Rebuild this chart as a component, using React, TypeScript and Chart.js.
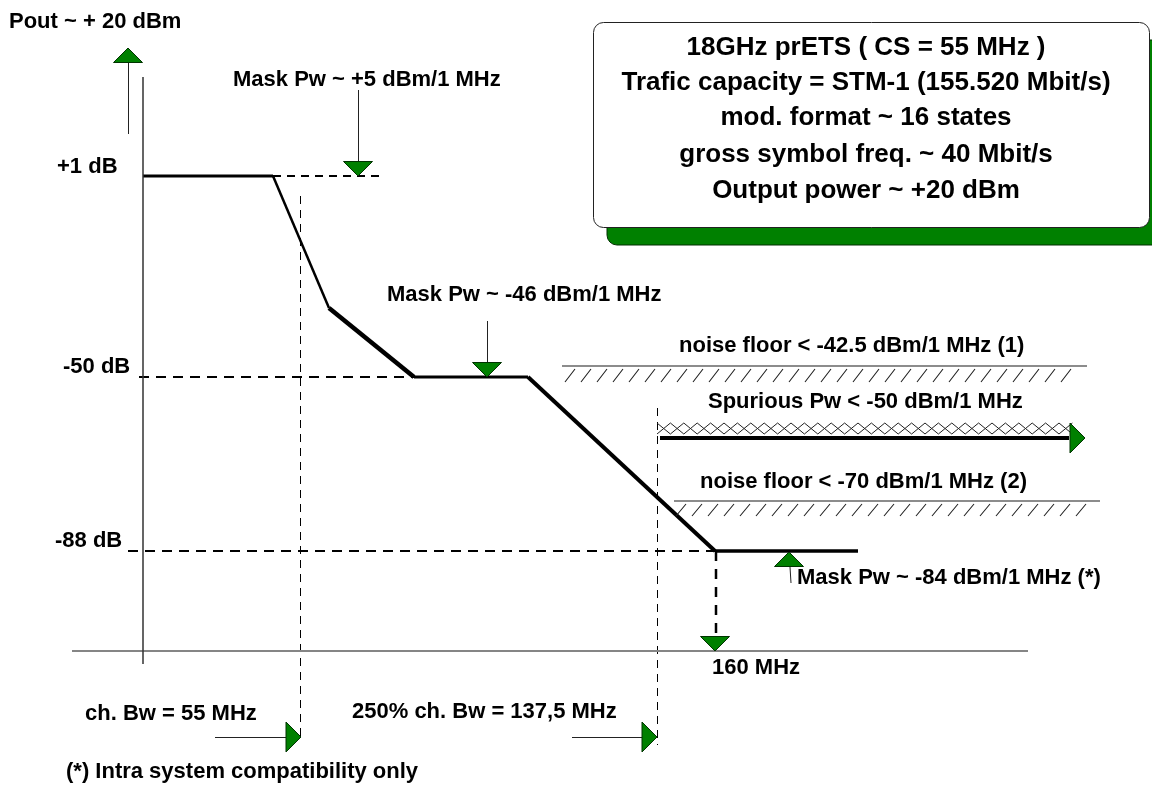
import React, { useEffect, useRef } from "react";
import { Chart, registerables } from "chart.js";

Chart.register(...registerables);

// Schematic diagram units (not to scale): x to the right, y downward.
// Spectrum mask breakpoints
const maskX = [143, 273, 329, 414, 528, 715, 858];
const maskY = [176, 176, 308, 377, 377, 551, 551];

// Level lines (+1 dB, -50 dB, -88 dB) and their labels
const levelNames = ["+1 dB", "-50 dB", "-88 dB"];
const levelY = [176, 377, 551];
const levelStartX = [273, 139, 128];
const levelEndX = [385, 414, 715];
const levelLabelX = [57, 63, 55];
const levelLabelY = [167, 367, 541];

// Frequency markers (vertical dashed lines)
const freqNames = ["ch. Bw = 55 MHz", "250% ch. Bw = 137,5 MHz", "160 MHz"];
const freqX = [300.5, 657.5, 716];
const freqTopY = [196, 408, 551];
const freqBottomY = [740, 745, 637];
const freqLabelX = [85, 352, 712];
const freqLabelY = [714, 712, 668];

// Axes of the sketch
const axisV = { x: 143, y1: 77, y2: 664 };
const axisH = { y: 651, x1: 72, x2: 1028 };

// Floors / limits
const floorNames = [
  "noise floor < -42.5 dBm/1 MHz (1)",
  "Spurious Pw < -50 dBm/1 MHz",
  "noise floor < -70 dBm/1 MHz (2)",
];
const floorY = [366, 438, 501];
const floorX1 = [562, 660, 674];
const floorX2 = [1087, 1069, 1100];
const floorLabelX = [679, 708, 700];
const floorLabelY = [346, 402, 482];

// Mask power annotations
const maskNotes = [
  "Mask Pw ~ +5 dBm/1 MHz",
  "Mask Pw ~ -46 dBm/1 MHz",
  "Mask Pw ~ -84 dBm/1 MHz (*)",
];
const maskNoteX = [233, 387, 797];
const maskNoteY = [80, 295, 578];

// Info box
const infoLines = [
  "18GHz prETS ( CS = 55 MHz )",
  "Trafic capacity = STM-1 (155.520 Mbit/s)",
  "mod. format ~ 16 states",
  "gross symbol freq. ~ 40 Mbit/s",
  "Output power ~ +20 dBm",
];
const infoLineY = [48, 83, 118, 155, 191];
const infoBox = { x1: 593, y1: 22, x2: 1149, y2: 227 };

const yAxisTitle = "Pout ~ + 20 dBm";
const footnote = "(*) Intra system compatibility only";

// Arrow shafts (thin lines)
const shafts = [
  { x1: 128.5, y1: 62, x2: 128.5, y2: 134 },
  { x1: 358.5, y1: 90, x2: 358.5, y2: 162 },
  { x1: 487.5, y1: 321, x2: 487.5, y2: 362 },
  { x1: 790, y1: 567, x2: 791, y2: 583 },
  { x1: 215, y1: 737.5, x2: 287, y2: 737.5 },
  { x1: 572, y1: 737.5, x2: 642, y2: 737.5 },
];

// Arrow heads: apex position and direction
const heads = [
  { x: 128, y: 48, dir: "up" },
  { x: 358, y: 176, dir: "down" },
  { x: 487, y: 377, dir: "down" },
  { x: 715, y: 651, dir: "down" },
  { x: 789, y: 552, dir: "up" },
  { x: 301, y: 737, dir: "right" },
  { x: 657, y: 737, dir: "right" },
  { x: 1085, y: 438, dir: "right" },
];

const FONT = '"Liberation Sans", Arial, Helvetica, sans-serif';

function seg(x1: number, y1: number, x2: number, y2: number, style: any) {
  return {
    type: "scatter" as const,
    data: [
      { x: x1, y: y1 },
      { x: x2, y: y2 },
    ],
    showLine: true,
    pointRadius: 0,
    fill: false,
    tension: 0,
    borderCapStyle: "butt",
    ...style,
  };
}

const decorPlugin = {
  id: "decor",
  beforeDatasetsDraw(chart: any) {
    const { ctx } = chart;
    const X = (v: number) => chart.scales.x.getPixelForValue(v);
    const Y = (v: number) => chart.scales.y.getPixelForValue(v);
    ctx.save();
    // green shadow
    ctx.fillStyle = "#008000";
    ctx.beginPath();
    ctx.roundRect(X(infoBox.x1 + 14), Y(infoBox.y1 + 18), X(infoBox.x2) - X(infoBox.x1), Y(infoBox.y2) - Y(infoBox.y1), 10);
    ctx.fill();
    ctx.strokeStyle = "#003000";
    ctx.lineWidth = 1;
    ctx.stroke();
    // white box
    ctx.fillStyle = "#ffffff";
    ctx.beginPath();
    ctx.roundRect(X(infoBox.x1) + 0.5, Y(infoBox.y1) + 0.5, X(infoBox.x2) - X(infoBox.x1), Y(infoBox.y2) - Y(infoBox.y1), 10);
    ctx.fill();
    ctx.strokeStyle = "#222";
    ctx.lineWidth = 1;
    ctx.stroke();
    ctx.restore();
  },
  afterDatasetsDraw(chart: any) {
    const { ctx } = chart;
    const X = (v: number) => chart.scales.x.getPixelForValue(v);
    const Y = (v: number) => chart.scales.y.getPixelForValue(v);
    ctx.save();

    // single hatching under noise floors
    ctx.strokeStyle = "#222";
    ctx.lineWidth = 1.1;
    const hatch = (x1: number, x2: number, top: number, bottom: number) => {
      ctx.beginPath();
      for (let x = x1; x + 6 <= x2; x += 16) {
        const xe = Math.min(x + 10, x2);
        ctx.moveTo(X(x), Y(bottom));
        ctx.lineTo(X(xe), Y(bottom - ((xe - x) / 10) * (bottom - top)));
      }
      ctx.stroke();
    };
    hatch(floorX1[0] + 3, floorX2[0] - 5, floorY[0] + 3, floorY[0] + 16);
    hatch(floorX1[2] + 2, floorX2[2] - 5, floorY[2] + 3, floorY[2] + 15);

    // cross hatching above the spurious line
    const cx1 = 657;
    const cx2 = floorX2[1] + 11;
    const ct = floorY[1] - 15;
    const cb = floorY[1] - 4;
    const p = 13.4;
    ctx.beginPath();
    for (let x = cx1; x + p <= cx2 + 0.1; x += p) {
      ctx.moveTo(X(x), Y(ct));
      ctx.lineTo(X(x + p), Y(cb));
      ctx.moveTo(X(x), Y(cb));
      ctx.lineTo(X(x + p), Y(ct));
    }
    ctx.strokeStyle = "#222";
    ctx.lineWidth = 1;
    ctx.stroke();

    // arrow heads
    ctx.fillStyle = "#008000";
    ctx.strokeStyle = "#003300";
    ctx.lineWidth = 1;
    for (const h of heads) {
      ctx.beginPath();
      if (h.dir === "up") {
        ctx.moveTo(X(h.x), Y(h.y));
        ctx.lineTo(X(h.x - 14.5), Y(h.y + 14.5));
        ctx.lineTo(X(h.x + 14.5), Y(h.y + 14.5));
      } else if (h.dir === "down") {
        ctx.moveTo(X(h.x), Y(h.y));
        ctx.lineTo(X(h.x - 14.5), Y(h.y - 14.5));
        ctx.lineTo(X(h.x + 14.5), Y(h.y - 14.5));
      } else {
        ctx.moveTo(X(h.x), Y(h.y));
        ctx.lineTo(X(h.x - 15), Y(h.y - 15));
        ctx.lineTo(X(h.x - 15), Y(h.y + 15));
      }
      ctx.closePath();
      ctx.fill();
      ctx.stroke();
    }

    // texts
    ctx.fillStyle = "#000";
    ctx.textBaseline = "middle";
    const text = (t: string, x: number, y: number, size: number, align: CanvasTextAlign = "left") => {
      ctx.font = `bold ${size}px ${FONT}`;
      ctx.textAlign = align;
      ctx.fillText(t, X(x), Y(y));
    };
    text(yAxisTitle, 9, 22, 22);
    levelNames.forEach((t, i) => text(t, levelLabelX[i], levelLabelY[i], 22));
    freqNames.forEach((t, i) => text(t, freqLabelX[i], freqLabelY[i], 22));
    floorNames.forEach((t, i) => text(t, floorLabelX[i], floorLabelY[i], 22));
    maskNotes.forEach((t, i) => text(t, maskNoteX[i], maskNoteY[i], 22));
    text(footnote, 66, 772, 22);
    const cx = (infoBox.x1 + infoBox.x2) / 2 - 5;
    infoLines.forEach((t, i) => text(t, cx, infoLineY[i], 26, "center"));
    ctx.restore();
  },
};

export default function App() {
  const ref = useRef<HTMLCanvasElement | null>(null);
  useEffect(() => {
    if (!ref.current) return;
    const maskWidths = [3, 2.5, 4.5, 3, 4, 3.5];
    const datasets: any[] = [];
    // axes of the sketch
    datasets.push(seg(axisV.x, axisV.y1, axisV.x, axisV.y2, { borderColor: "#333", borderWidth: 1.5 }));
    datasets.push(seg(axisH.x1, axisH.y, axisH.x2, axisH.y, { borderColor: "#858585", borderWidth: 2 }));
    // level dashed lines
    levelY.forEach((y, i) =>
      datasets.push(seg(levelStartX[i], y, levelEndX[i], y, { borderColor: "#000", borderWidth: 2, borderDash: i === 0 ? [8, 6] : [10, 7] }))
    );
    // frequency dashed lines
    freqX.forEach((x, i) =>
      datasets.push(
        seg(x, freqTopY[i], x, freqBottomY[i], {
          borderColor: "#000",
          borderWidth: i === 2 ? 2.5 : 1,
          borderDash: i === 2 ? [10, 8] : [8, 6],
        })
      )
    );
    // noise floors
    [0, 2].forEach((i) =>
      datasets.push(seg(floorX1[i], floorY[i], floorX2[i], floorY[i], { borderColor: "#666", borderWidth: 1.5 }))
    );
    // spurious limit
    datasets.push(seg(floorX1[1], floorY[1], floorX2[1], floorY[1], { borderColor: "#000", borderWidth: 4 }));
    // arrow shafts
    shafts.forEach((s) => datasets.push(seg(s.x1, s.y1, s.x2, s.y2, { borderColor: "#222", borderWidth: 1 })));
    // the mask
    datasets.push({
      type: "scatter",
      data: maskX.map((x, i) => ({ x, y: maskY[i] })),
      showLine: true,
      pointRadius: 0,
      borderColor: "#000",
      borderWidth: 3,
      borderJoinStyle: "round",
      segment: { borderWidth: (c: any) => maskWidths[c.p0DataIndex] },
    });

    const chart = new Chart(ref.current, {
      type: "scatter",
      data: { datasets },
      options: {
        animation: false,
        responsive: true,
        maintainAspectRatio: false,
        events: [],
        layout: { padding: 0 },
        plugins: { legend: { display: false }, tooltip: { enabled: false } },
        scales: {
          x: { type: "linear", min: 0, max: 1152, display: false },
          y: { type: "linear", min: 0, max: 796, reverse: true, display: false },
        },
      },
      plugins: [decorPlugin],
    } as any);
    return () => chart.destroy();
  }, []);

  return (
    <div style={{ position: "absolute", left: 0, top: 0, width: 1152, height: 796, background: "#fff" }}>
      <canvas ref={ref} />
    </div>
  );
}
